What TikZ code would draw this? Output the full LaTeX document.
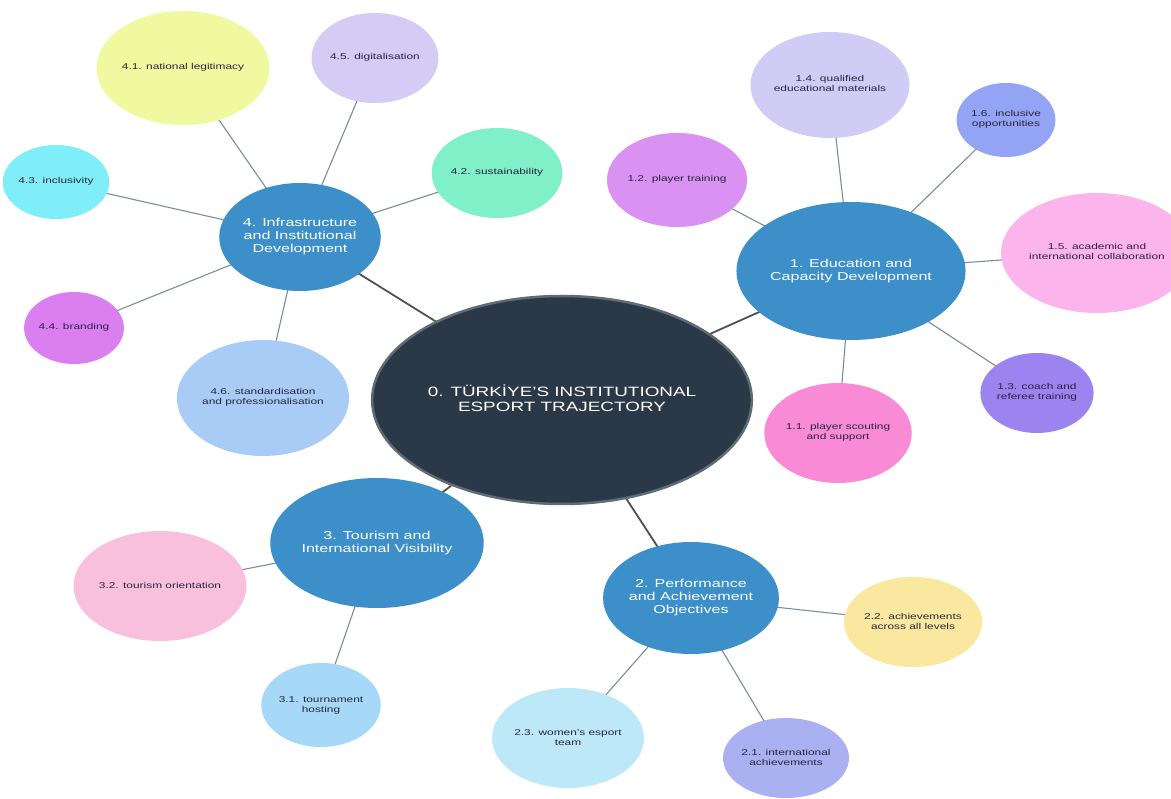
\documentclass[tikz,border=0pt]{standalone}
\usepackage{fontspec}
\setmainfont{Liberation Sans}
\setsansfont{Liberation Sans}
\usetikzlibrary{shapes.geometric,backgrounds}
\newcommand\sx[1]{\scalebox{1.4}[1]{\begin{tabular}{@{}c@{}}#1\end{tabular}}}
\definecolor{mainblue}{RGB}{60,143,200}
\definecolor{centerfill}{RGB}{43,56,72}
\definecolor{centerline}{RGB}{95,107,117}
\definecolor{mainedge}{RGB}{80,80,80}
\definecolor{childedge}{RGB}{125,140,152}
\definecolor{childtext}{RGB}{40,36,60}
\definecolor{cA}{RGB}{240,248,160}
\definecolor{cB}{RGB}{212,204,245}
\definecolor{cC}{RGB}{128,240,200}
\definecolor{cD}{RGB}{128,238,248}
\definecolor{cE}{RGB}{218,126,240}
\definecolor{cF}{RGB}{168,204,245}
\definecolor{cG}{RGB}{208,204,245}
\definecolor{cH}{RGB}{148,164,244}
\definecolor{cI}{RGB}{217,145,242}
\definecolor{cJ}{RGB}{251,180,236}
\definecolor{cK}{RGB}{155,132,240}
\definecolor{cL}{RGB}{249,138,214}
\definecolor{cM}{RGB}{249,192,222}
\definecolor{cN}{RGB}{166,216,247}
\definecolor{cO}{RGB}{251,232,160}
\definecolor{cP}{RGB}{188,232,248}
\definecolor{cQ}{RGB}{170,176,240}
\tikzset{
  blob/.style={ellipse, inner sep=0pt, align=center},
  centernode/.style={blob, fill=centerfill, draw=centerline, line width=2.5pt, text=white,
     font=\fontsize{13.5}{15}\selectfont},
  mainnode/.style={blob, fill=mainblue, text=white, font=\fontsize{11.5}{13}\selectfont},
  childnode/.style={blob, text=childtext, font=\fontsize{8.5}{10}\selectfont},
  mainlink/.style={draw=mainedge, line width=1.8pt},
  childlink/.style={draw=childedge, line width=1.1pt},
}
\begin{document}
\begin{tikzpicture}[x=1pt,y=-1pt]
\useasboundingbox (0,0) rectangle (1171,799);
% centre
\node[centernode, minimum width=292pt, minimum height=208pt] (n0) at (562,400) {\sx{0. TÜRKİYE'S INSTITUTIONAL\\ESPORT TRAJECTORY}};
% main nodes
\node[mainnode, minimum width=134pt, minimum height=108pt] (n4) at (300,237) {\sx{4. Infrastructure\\and Institutional\\Development}};
\node[mainnode, minimum width=184pt, minimum height=138pt] (n1) at (851,271) {\sx{1. Education and\\Capacity Development}};
\node[mainnode, minimum width=170pt, minimum height=130pt] (n3) at (377,543) {\sx{3. Tourism and\\International Visibility}};
\node[mainnode, minimum width=150pt, minimum height=112pt] (n2) at (691,598) {\sx{2. Performance\\and Achievement\\Objectives}};
% children of 4
\node[childnode, fill=cA, minimum width=140pt, minimum height=114pt] (n41) at (183,68) {\sx{4.1. national legitimacy}};
\node[childnode, fill=cB, minimum width=100pt, minimum height=90pt] (n45) at (375,58) {\sx{4.5. digitalisation}};
\node[childnode, fill=cC, minimum width=114pt, minimum height=90pt] (n42) at (497,173) {\sx{4.2. sustainability}};
\node[childnode, fill=cD, minimum width=102pt, minimum height=74pt] (n43) at (56,182) {\sx{4.3. inclusivity}};
\node[childnode, fill=cE, minimum width=76pt, minimum height=72pt] (n44) at (74,328) {\sx{4.4. branding}};
\node[childnode, fill=cF, minimum width=150pt, minimum height=116pt] (n46) at (263,398) {\sx{4.6. standardisation\\and professionalisation}};
% children of 1
\node[childnode, fill=cG, minimum width=114pt, minimum height=106pt] (n14) at (830,85) {\sx{1.4. qualified\\educational materials}};
\node[childnode, fill=cH, minimum width=86pt, minimum height=74pt] (n16) at (1006,120) {\sx{1.6. inclusive\\opportunities}};
\node[childnode, fill=cI, minimum width=110pt, minimum height=94pt] (n12) at (677,180) {\sx{1.2. player training}};
\node[childnode, fill=cJ, minimum width=152pt, minimum height=120pt] (n15) at (1097,253) {\sx{1.5. academic and\\international collaboration}};
\node[childnode, fill=cK, minimum width=100pt, minimum height=80pt] (n13) at (1037,393) {\sx{1.3. coach and\\referee training}};
\node[childnode, fill=cL, minimum width=120pt, minimum height=100pt] (n11) at (838,433) {\sx{1.1. player scouting\\and support}};
% children of 3
\node[childnode, fill=cM, minimum width=148pt, minimum height=110pt] (n32) at (160,586) {\sx{3.2. tourism orientation}};
\node[childnode, fill=cN, minimum width=104pt, minimum height=84pt] (n31) at (321,705) {\sx{3.1. tournament\\hosting}};
% children of 2
\node[childnode, fill=cO, minimum width=118pt, minimum height=90pt] (n22) at (913,622) {\sx{2.2. achievements\\across all levels}};
\node[childnode, fill=cP, minimum width=130pt, minimum height=100pt] (n23) at (568,738) {\sx{2.3. women's esport\\team}};
\node[childnode, fill=cQ, minimum width=112pt, minimum height=80pt] (n21) at (786,758) {\sx{2.1. international\\achievements}};
% connectors
\begin{scope}[on background layer]
\fill[white] (0,0) rectangle (1171,799);
\draw[mainlink] (n0.center) -- (n1.center);
\draw[mainlink] (n0.center) -- (n2.center);
\draw[mainlink] (n0.center) -- (n3.center);
\draw[mainlink] (n0.center) -- (n4.center);
\foreach \c in {41,45,42,43,44,46} \draw[childlink] (n4.center) -- (n\c.center);
\foreach \c in {14,16,12,15,13,11} \draw[childlink] (n1.center) -- (n\c.center);
\foreach \c in {32,31} \draw[childlink] (n3.center) -- (n\c.center);
\foreach \c in {22,23,21} \draw[childlink] (n2.center) -- (n\c.center);
\end{scope}
\end{tikzpicture}
\end{document}
